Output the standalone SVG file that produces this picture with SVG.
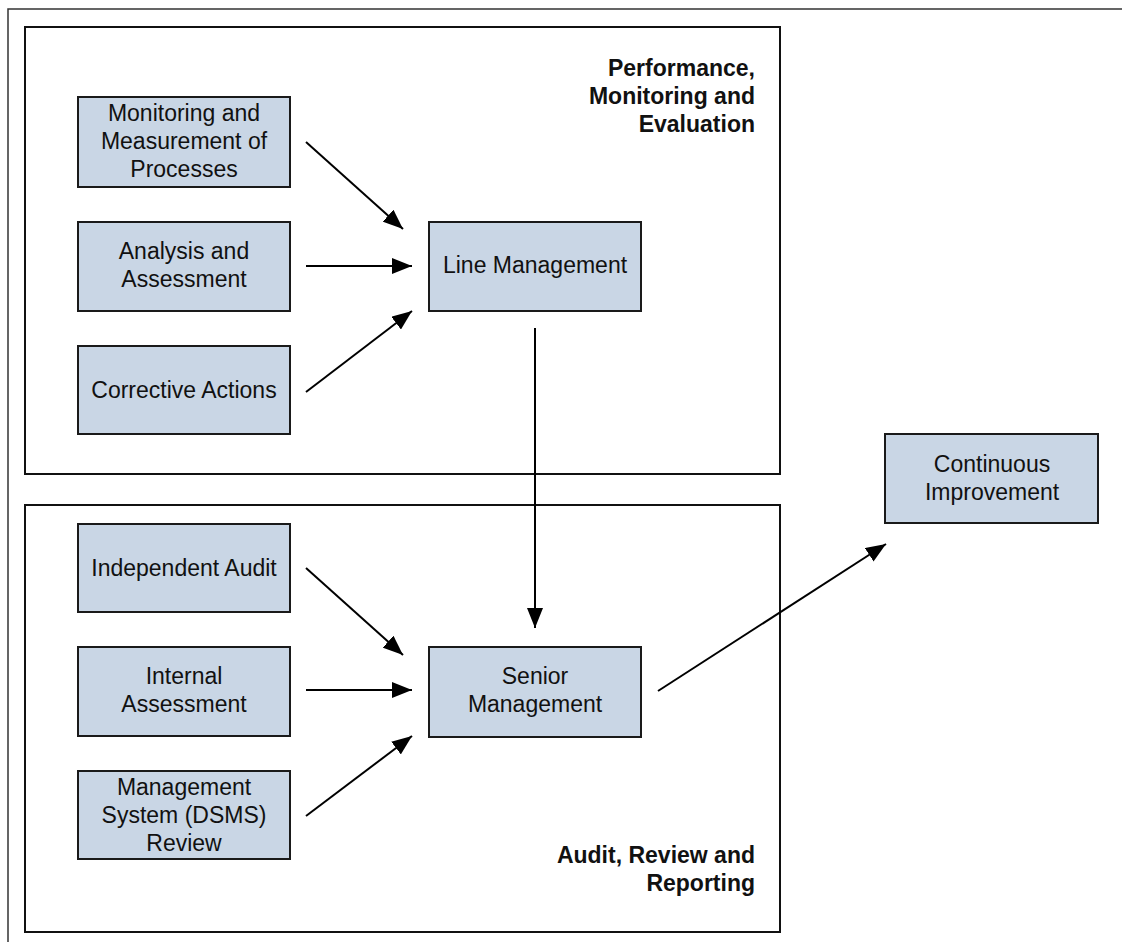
<svg xmlns="http://www.w3.org/2000/svg" width="1122" height="942" viewBox="0 0 1122 942">
  <style>
    .frame { fill: none; stroke: #333; stroke-width: 1.5; }
    .panel { fill: #fff; stroke: #111; stroke-width: 2; }
    .box { fill: #c9d6e5; stroke: #1a1a1a; stroke-width: 2; }
    .lbl { font-family: "Liberation Sans", Arial, sans-serif; font-size: 23px; fill: #111; text-anchor: middle; }
    .title { font-family: "Liberation Sans", Arial, sans-serif; font-size: 23px; font-weight: bold; fill: #111; text-anchor: end; }
    .edge { fill: none; stroke: #000; stroke-width: 2; }
  </style>
  <defs>
    <marker id="arrow" markerUnits="userSpaceOnUse" markerWidth="22" markerHeight="16" refX="20" refY="8" orient="auto">
      <path d="M0,0 L20,8 L0,16 Z" fill="#000"/>
    </marker>
  </defs>

  <rect width="1122" height="942" fill="#fff"/>

  <!-- outer frame: top and left edges -->
  <path class="frame" d="M1122,9 H8 V942"/>

  <!-- section panels -->
  <g id="panel-performance">
    <rect class="panel" x="25" y="27" width="755" height="447"/>
    <text class="title" x="755" y="76">Performance,</text>
    <text class="title" x="755" y="104">Monitoring and</text>
    <text class="title" x="755" y="132">Evaluation</text>
  </g>
  <g id="panel-audit">
    <rect class="panel" x="25" y="505" width="755" height="427"/>
    <text class="title" x="755" y="863">Audit, Review and</text>
    <text class="title" x="755" y="891">Reporting</text>
  </g>

  <!-- connectors -->
  <g id="connectors">
    <line class="edge" x1="306" y1="142" x2="403" y2="229" marker-end="url(#arrow)"/>
    <line class="edge" x1="306" y1="266" x2="412" y2="266" marker-end="url(#arrow)"/>
    <line class="edge" x1="306" y1="392" x2="412" y2="311" marker-end="url(#arrow)"/>
    <line class="edge" x1="535" y1="328" x2="535" y2="628" marker-end="url(#arrow)"/>
    <line class="edge" x1="306" y1="568" x2="403" y2="655" marker-end="url(#arrow)"/>
    <line class="edge" x1="306" y1="690" x2="412" y2="690" marker-end="url(#arrow)"/>
    <line class="edge" x1="306" y1="816" x2="412" y2="736" marker-end="url(#arrow)"/>
    <line class="edge" x1="658" y1="691" x2="886" y2="544" marker-end="url(#arrow)"/>
  </g>

  <!-- nodes -->
  <g id="monitoring">
    <rect class="box" x="78" y="97" width="212" height="90"/>
    <text class="lbl" x="184" y="121">Monitoring and</text>
    <text class="lbl" x="184" y="149">Measurement of</text>
    <text class="lbl" x="184" y="177">Processes</text>
  </g>
  <g id="analysis">
    <rect class="box" x="78" y="222" width="212" height="89"/>
    <text class="lbl" x="184" y="259">Analysis and</text>
    <text class="lbl" x="184" y="287">Assessment</text>
  </g>
  <g id="corrective">
    <rect class="box" x="78" y="346" width="212" height="88"/>
    <text class="lbl" x="184" y="398">Corrective Actions</text>
  </g>
  <g id="line-management">
    <rect class="box" x="429" y="222" width="212" height="89"/>
    <text class="lbl" x="535" y="273">Line Management</text>
  </g>
  <g id="independent-audit">
    <rect class="box" x="78" y="524" width="212" height="88"/>
    <text class="lbl" x="184" y="576">Independent Audit</text>
  </g>
  <g id="internal-assessment">
    <rect class="box" x="78" y="647" width="212" height="89"/>
    <text class="lbl" x="184" y="684">Internal</text>
    <text class="lbl" x="184" y="712">Assessment</text>
  </g>
  <g id="management-system-review">
    <rect class="box" x="78" y="771" width="212" height="88"/>
    <text class="lbl" x="184" y="795">Management</text>
    <text class="lbl" x="184" y="823">System (DSMS)</text>
    <text class="lbl" x="184" y="851">Review</text>
  </g>
  <g id="senior-management">
    <rect class="box" x="429" y="647" width="212" height="90"/>
    <text class="lbl" x="535" y="684">Senior</text>
    <text class="lbl" x="535" y="712">Management</text>
  </g>
  <g id="continuous-improvement">
    <rect class="box" x="885" y="434" width="213" height="89"/>
    <text class="lbl" x="992" y="472">Continuous</text>
    <text class="lbl" x="992" y="500">Improvement</text>
  </g>
</svg>
